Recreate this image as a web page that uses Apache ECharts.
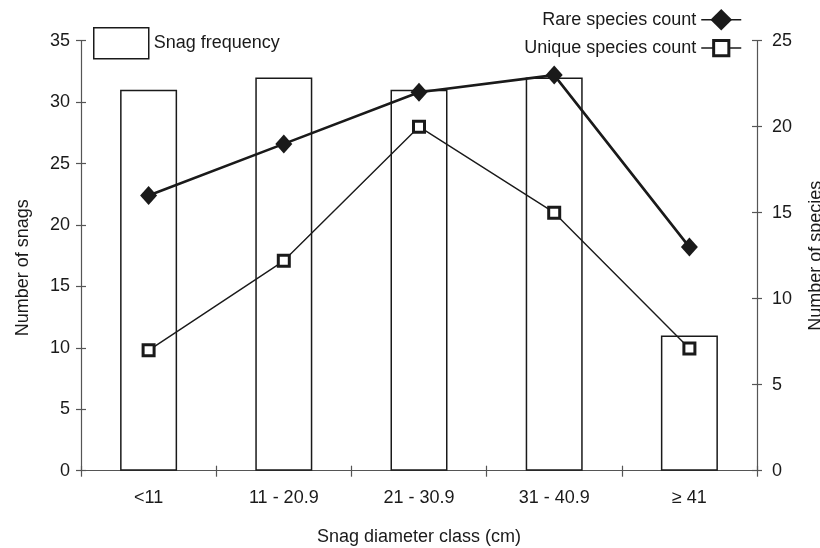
<!DOCTYPE html>
<html>
<head>
<meta charset="utf-8">
<script src="https://cdn.jsdelivr.net/npm/echarts@6/dist/echarts.min.js"></script>
<style>
html,body{margin:0;padding:0;background:#fff;}
#c{width:820px;height:548px;}
</style>
</head>
<body>
<div id="c"></div>
<script>
const categories = ['<11', '11 - 20.9', '21 - 30.9', '31 - 40.9', '\u2265 41'];
const snagFrequency = [31, 32, 31, 32, 11];
const rareSpecies = [16, 19, 22, 23, 13];
const uniqueSpecies = [7, 12.2, 20, 15, 7.1];
const leftTicks = { min: 0, max: 35, interval: 5 };
const rightTicks = { min: 0, max: 25, interval: 5 };

const FONT = "'Liberation Sans', Arial, Helvetica, sans-serif";
const INK = '#1a1a1a';
const AXIS = '#555';

const chart = echarts.init(document.getElementById('c'), null, { renderer: 'canvas' });

function yAx(pos, ticks, opts) {
  return Object.assign({
    type: 'value', position: pos, min: ticks.min, max: ticks.max, interval: ticks.interval,
    splitLine: { show: false },
    axisLine: { show: true, lineStyle: { color: AXIS, width: 1.2 } },
    axisTick: { show: true, inside: false, length: 5, lineStyle: { color: AXIS, width: 1.2 } },
    axisLabel: { show: true, color: INK, fontFamily: FONT, fontSize: 18 }
  }, opts);
}

chart.setOption({
  animation: false,
  backgroundColor: '#fff',
  grid: { left: 81, right: 63, top: 40.7, bottom: 77.3, containLabel: false, outerBoundsMode: 'none' },
  legend: [
    {
      data: ['Snag frequency'], left: 88, top: 22, itemWidth: 55, itemHeight: 31, icon: 'rect',
      itemStyle: { color: '#fff', borderColor: INK, borderWidth: 1.5 },
      textStyle: { color: INK, fontFamily: FONT, fontSize: 18 }
    },
    {
      data: ['Rare species count'], right: 73, top: 4, itemWidth: 40, itemHeight: 27, align: 'right',
      lineStyle: { width: 1.5, color: INK },
      textStyle: { color: INK, fontFamily: FONT, fontSize: 18 }
    },
    {
      data: ['Unique species count'], right: 73, top: 34, itemWidth: 40, itemHeight: 19, align: 'right',
      lineStyle: { width: 1.5, color: INK },
      itemStyle: { color: '#fff', borderColor: INK, borderWidth: 3 },
      textStyle: { color: INK, fontFamily: FONT, fontSize: 18 }
    }
  ],
  xAxis: [
    {
      type: 'category', data: categories, position: 'bottom',
      axisLine: { show: true, lineStyle: { color: AXIS, width: 1.2 } },
      axisTick: { show: true, inside: false, length: 6, alignWithLabel: false, lineStyle: { color: AXIS, width: 1.2 } },
      axisLabel: { color: INK, fontFamily: FONT, fontSize: 18, margin: 18 },
      name: 'Snag diameter class (cm)', nameLocation: 'middle', nameGap: 57,
      nameTextStyle: { color: INK, fontFamily: FONT, fontSize: 18 }
    },
    {
      type: 'category', data: categories, position: 'bottom',
      axisLine: { show: false },
      axisTick: { show: true, inside: true, length: 5, lineStyle: { color: AXIS, width: 1.2 } },
      axisLabel: { show: false }
    }
  ],
  yAxis: [
    yAx('left', leftTicks, {
      axisLabel: { color: INK, fontFamily: FONT, fontSize: 18, margin: 11 },
      name: 'Number of snags', nameLocation: 'middle', nameGap: 49,
      nameTextStyle: { color: INK, fontFamily: FONT, fontSize: 18, padding: [0, 24, 0, 0] }
    }),
    yAx('right', rightTicks, {
      axisLabel: { color: INK, fontFamily: FONT, fontSize: 18, margin: 15 },
      name: 'Number of species', nameLocation: 'middle', nameGap: 50,
      nameTextStyle: { color: INK, fontFamily: FONT, fontSize: 18 }
    }),
    yAx('left', leftTicks, { axisLine: { show: false }, axisTick: { show: true, inside: true, length: 5, lineStyle: { color: AXIS, width: 1.2 } }, axisLabel: { show: false } }),
    yAx('right', rightTicks, { axisLine: { show: false }, axisTick: { show: true, inside: true, length: 5, lineStyle: { color: AXIS, width: 1.2 } }, axisLabel: { show: false } })
  ],
  series: [
    {
      name: 'Snag frequency', type: 'bar', data: snagFrequency, xAxisIndex: 0, yAxisIndex: 0,
      barWidth: 57,
      itemStyle: { color: '#fff', borderColor: INK, borderWidth: 1.5 },
      z: 1
    },
    {
      name: 'Rare species count', type: 'line', data: rareSpecies, xAxisIndex: 0, yAxisIndex: 1,
      symbol: 'diamond', symbolSize: [17, 19],
      lineStyle: { color: INK, width: 2.6 },
      itemStyle: { color: INK, borderColor: INK, borderWidth: 0 },
      z: 5
    },
    {
      name: 'Unique species count', type: 'line', data: uniqueSpecies, xAxisIndex: 0, yAxisIndex: 1,
      symbol: 'rect', symbolSize: 11,
      lineStyle: { color: INK, width: 1.4 },
      itemStyle: { color: '#fff', borderColor: INK, borderWidth: 3 },
      z: 4
    }
  ]
});
</script>
</body>
</html>
